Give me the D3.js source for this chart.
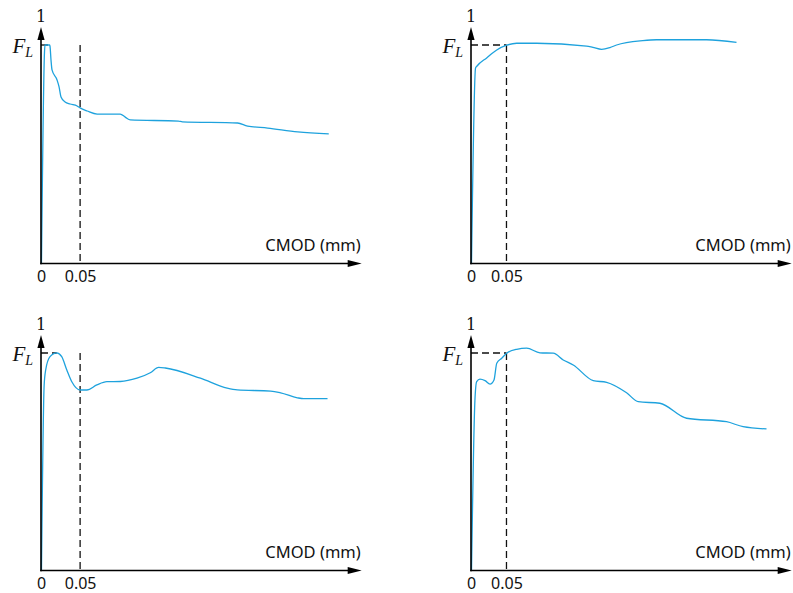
<!DOCTYPE html>
<html>
<head>
<meta charset="utf-8">
<script src="https://cdn.jsdelivr.net/npm/d3@7"></script>
<style>
  html, body { margin: 0; padding: 0; background: #fff; }
  svg { display: block; }
</style>
</head>
<body>
<svg id="chart" width="793" height="593"></svg>
<script>
// ---- data (CMOD in mm, load normalised by F_L) ----
const tickValues = [0, 0.05];
const tickLabels = ["0", "0.05"];
const xLabel = "CMOD (mm)";
const yTopLabel = "1";

const p1X = [0.0006, 0.0045, 0.0051, 0.011, 0.0115, 0.0128, 0.0141, 0.0205, 0.0231, 0.0256, 0.0308, 0.0372, 0.0462, 0.05, 0.059, 0.0718, 0.1013, 0.1077, 0.1141, 0.1756, 0.1808, 0.2513, 0.2641, 0.2897, 0.3282, 0.3679];
const p1Y = [0, 0.97, 1.0, 1.0, 0.995, 0.931, 0.886, 0.84, 0.808, 0.762, 0.739, 0.73, 0.721, 0.712, 0.698, 0.684, 0.684, 0.67, 0.657, 0.652, 0.648, 0.643, 0.629, 0.62, 0.602, 0.593];

const p2X = [0.0007, 0.0064, 0.0085, 0.0221, 0.0363, 0.0503, 0.0644, 0.0925, 0.1629, 0.1718, 0.1841, 0.1958, 0.2052, 0.2422, 0.2615, 0.332, 0.3742];
const p2Y = [0, 0.895, 0.904, 0.941, 0.977, 0.999, 1.008, 1.008, 0.995, 0.989, 0.98, 0.988, 1.0, 1.02, 1.024, 1.024, 1.012];

const p3X = [0.0006, 0.004, 0.006, 0.0115, 0.0201, 0.0265, 0.033, 0.0394, 0.05, 0.0586, 0.0714, 0.0842, 0.1013, 0.1227, 0.1397, 0.1504, 0.159, 0.2038, 0.238, 0.251, 0.2936, 0.3064, 0.3278, 0.3359, 0.3663];
const p3Y = [0, 0.85, 0.922, 0.983, 1.001, 0.983, 0.922, 0.868, 0.83, 0.83, 0.853, 0.868, 0.869, 0.884, 0.909, 0.934, 0.931, 0.884, 0.838, 0.83, 0.825, 0.817, 0.794, 0.79, 0.79];

const p4X = [0.0007, 0.0055, 0.008, 0.0126, 0.0198, 0.0268, 0.0324, 0.0363, 0.0433, 0.0503, 0.0644, 0.0784, 0.0972, 0.1159, 0.13, 0.1441, 0.1723, 0.1912, 0.2193, 0.2357, 0.2662, 0.3038, 0.3601, 0.3835, 0.4165];
const p4Y = [0, 0.78, 0.868, 0.88, 0.873, 0.857, 0.876, 0.953, 0.976, 0.999, 1.017, 1.022, 1.001, 0.999, 0.968, 0.945, 0.873, 0.865, 0.817, 0.776, 0.769, 0.7, 0.684, 0.661, 0.651];

// x position where the F_L reference line ends
const p1Peak = 0.009, p2Peak = 0.05, p3Peak = 0.0201, p4Peak = 0.05;
// axis end (mm) of each panel's x-axis
const p1Max = 0.41, p2Max = 0.452, p3Max = 0.41, p4Max = 0.452;

// ---- layout ----
const panels = [
  { xs: p1X, ys: p1Y, peak: p1Peak, xMax: p1Max, ox: 41,  oy: 263.5, fly: 45 },
  { xs: p2X, ys: p2Y, peak: p2Peak, xMax: p2Max, ox: 471, oy: 263.5, fly: 45 },
  { xs: p3X, ys: p3Y, peak: p3Peak, xMax: p3Max, ox: 41,  oy: 570.5, fly: 353 },
  { xs: p4X, ys: p4Y, peak: p4Peak, xMax: p4Max, ox: 471, oy: 570.5, fly: 353 }
];

const svg = d3.select("#chart");
const curveColor = "#1ea2dd";

panels.forEach(p => {
  const x = d3.scaleLinear().domain([0, p.xMax]).range([p.ox, p.ox + 320.7]);
  const y = d3.scaleLinear().domain([0, 1]).range([p.oy, p.fly]);
  const g = svg.append("g");

  // dashed reference lines
  g.append("line")
    .attr("x1", x(0.05)).attr("x2", x(0.05))
    .attr("y1", y(1)).attr("y2", y(0))
    .attr("stroke", "#111").attr("stroke-width", 1.3)
    .attr("stroke-dasharray", "7,4");
  g.append("line")
    .attr("x1", x(0)).attr("x2", x(p.peak))
    .attr("y1", y(1)).attr("y2", y(1))
    .attr("stroke", "#111").attr("stroke-width", 1.3)
    .attr("stroke-dasharray", "7,4");

  // curve
  const pts = p.xs.map((v, i) => [v, p.ys[i]]);
  g.append("path")
    .datum(pts)
    .attr("fill", "none")
    .attr("stroke", curveColor)
    .attr("stroke-width", 1.3)
    .attr("d", d3.line().x(d => x(d[0])).y(d => y(d[1])).curve(d3.curveMonotoneX));

  // axes lines with arrowheads
  const x0 = x(0), y0 = y(0);
  const yTip = p.fly - 18;
  const xTip = x(p.xMax);
  g.append("line").attr("x1", x0).attr("x2", x0).attr("y1", y0 + 0.75).attr("y2", yTip + 8)
    .attr("stroke", "#000").attr("stroke-width", 1.6);
  g.append("path")
    .attr("d", `M${x0},${yTip} L${x0 - 3.6},${yTip + 13} L${x0 + 3.6},${yTip + 13} Z`)
    .attr("fill", "#000");
  g.append("line").attr("x1", x0 - 0.75).attr("x2", xTip - 8).attr("y1", y0).attr("y2", y0)
    .attr("stroke", "#000").attr("stroke-width", 1.6);
  g.append("path")
    .attr("d", `M${xTip},${y0} L${xTip - 14},${y0 - 3.6} L${xTip - 14},${y0 + 3.6} Z`)
    .attr("fill", "#000");

  // tick labels via d3 axis
  const ax = g.append("g")
    .attr("transform", `translate(0,${y0})`)
    .call(d3.axisBottom(x).tickValues(tickValues)
      .tickFormat((d, i) => tickLabels[i]).tickSize(0).tickPadding(0));
  ax.select(".domain").remove();
  ax.selectAll("text")
    .attr("y", 18.5).attr("dy", null)
    .attr("font-family", "'Noto Sans', 'Open Sans', sans-serif")
    .attr("font-size", 16).attr("fill", "#111");

  // x-axis title
  g.append("text")
    .attr("x", xTip - 1).attr("y", y0 - 13)
    .attr("text-anchor", "end")
    .attr("font-family", "'Noto Sans', 'Open Sans', sans-serif")
    .attr("font-size", 16.5).attr("fill", "#111")
    .text(xLabel);

  // "1" at top of y-axis
  g.append("text")
    .attr("x", x0).attr("y", p.fly - 23.5)
    .attr("text-anchor", "middle")
    .attr("font-family", "'DejaVu Serif', 'Liberation Serif', serif")
    .attr("font-size", 16).attr("fill", "#111")
    .text(yTopLabel);

  // F_L label
  const fl = g.append("text")
    .attr("x", x0 - 8).attr("y", y(1) + 8)
    .attr("text-anchor", "end")
    .attr("font-family", "'Liberation Serif', 'DejaVu Serif', serif")
    .attr("font-style", "italic").attr("fill", "#111");
  fl.append("tspan").attr("font-size", 21).text("F");
  fl.append("tspan").attr("font-size", 14).attr("dy", 4).text("L");
});
</script>
</body>
</html>
